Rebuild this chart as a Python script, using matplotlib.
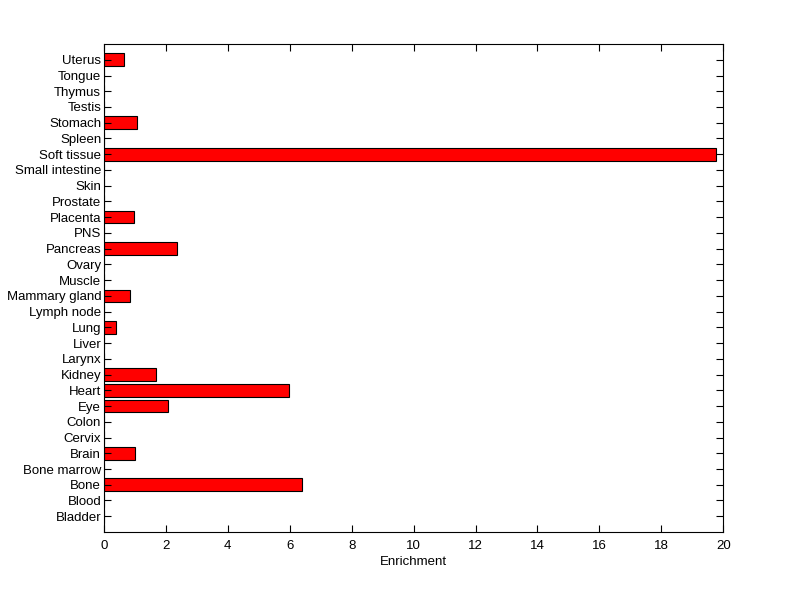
import matplotlib
matplotlib.use('Agg')
import matplotlib.pyplot as plt

tissues = ['Bladder', 'Blood', 'Bone', 'Bone marrow', 'Brain', 'Cervix', 'Colon', 'Eye',
           'Heart', 'Kidney', 'Larynx', 'Liver', 'Lung', 'Lymph node', 'Mammary gland',
           'Muscle', 'Ovary', 'Pancreas', 'PNS', 'Placenta', 'Prostate', 'Skin',
           'Small intestine', 'Soft tissue', 'Spleen', 'Stomach', 'Testis', 'Thymus',
           'Tongue', 'Uterus']
enrichment = [0, 0, 6.40, 0, 1.01, 0, 0, 2.07,
              5.98, 1.69, 0, 0, 0.40, 0, 0.85,
              0, 0, 2.36, 0, 0.97, 0, 0,
              0, 19.78, 0, 1.07, 0, 0,
              0, 0.65]

plt.rcParams['font.family'] = ['Liberation Sans', 'DejaVu Sans']

fig = plt.figure(figsize=(8, 5.99), dpi=100)
ax = fig.add_axes([0.13, 0.1119, 0.774, 0.8146])

pos = list(range(1, len(tissues) + 1))
ax.barh(pos, enrichment, height=0.8, color='#ff0000', edgecolor='black', linewidth=0.8)

ax.set_xlim(0, 20)
ax.set_ylim(0, len(tissues) + 1)
ax.set_xticks(range(0, 21, 2))
ax.set_yticks(pos)
ax.set_yticklabels(tissues)
ax.set_xlabel('Enrichment', fontsize=9.5, labelpad=3)
ax.tick_params(direction='in', top=True, right=True, labelsize=9.5, length=5, width=0.8)
ax.tick_params(axis='x', pad=6)
ax.tick_params(axis='y', pad=2)
for s in ax.spines.values():
    s.set_linewidth(0.8)

fig.savefig('out.png', dpi=100)
